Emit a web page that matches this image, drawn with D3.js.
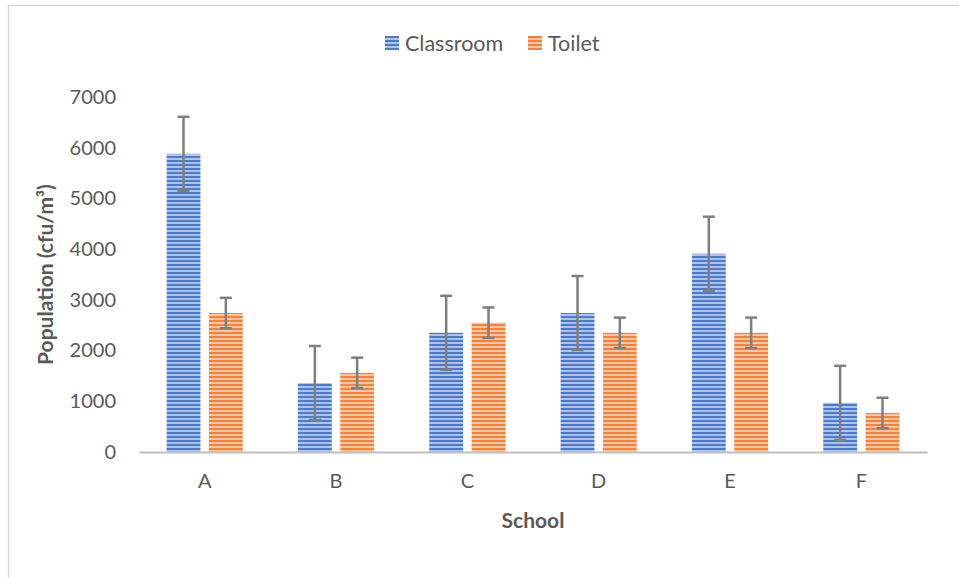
<!DOCTYPE html>
<html><head><meta charset="utf-8">
<script src="https://cdn.jsdelivr.net/npm/d3@7"></script>
<style>
html,body{margin:0;padding:0;background:#fff;}
svg{display:block;}
text{font-family:Lato,"Open Sans",sans-serif;}
</style></head>
<body>
<svg id="c" width="959" height="578"></svg>
<script>
const categories = ["A","B","C","D","E","F"];
const seriesNames = ["Classroom","Toilet"];
const classroom = [5880, 1360, 2350, 2740, 3910, 970];
const toilet = [2740, 1560, 2550, 2350, 2350, 770];
const classroomErr = [730, 730, 730, 730, 730, 730];
const toiletErr = [300, 300, 300, 300, 300, 300];
const yTicks = [0,1000,2000,3000,4000,5000,6000,7000];

const values = [classroom, toilet];
const errs = [classroomErr, toiletErr];
const colors = [{dark:"#4e7ac8", light:"#adc3ea"},{dark:"#ee8440", light:"#f8c5a2"}];

const svg = d3.select("#c");
// border
svg.append("rect").attr("x",8.5).attr("y",5.5).attr("width",1000).attr("height",1000)
  .attr("fill","none").attr("stroke","#d9d9d9").attr("stroke-width",1.5);

const defs = svg.append("defs");
colors.forEach((c,i)=>{
  const p = defs.append("pattern").attr("id","pat"+i).attr("patternUnits","userSpaceOnUse")
    .attr("width",8).attr("height",4);
  p.append("rect").attr("width",8).attr("height",4).attr("fill",c.light);
  p.append("rect").attr("y",0).attr("width",8).attr("height",2).attr("fill",c.dark);
});

const pLeft=139, pRight=927, pTop=97, pBottom=452;
const x0 = d3.scaleBand().domain(categories).range([pLeft,pRight]).paddingInner(0.42).paddingOuter(0.21);
const x1 = d3.scaleBand().domain(seriesNames).range([0,x0.bandwidth()]).paddingInner(0.2);
const y = d3.scaleLinear().domain([0,7000]).range([pBottom,pTop]);

// y axis labels
const yAxis = d3.axisLeft(y).tickValues(yTicks).tickSize(0).tickPadding(0).tickFormat(d3.format("d"));
const ya = svg.append("g").attr("transform",`translate(116,0)`).call(yAxis);
ya.select(".domain").remove();
ya.selectAll("text").attr("fill","#595959").style("font-size","20px").style("font-family","Lato,'Open Sans',sans-serif");

// bars
seriesNames.forEach((s,i)=>{
  svg.append("g").selectAll("rect").data(categories).join("rect")
    .attr("x",d=>x0(d)+x1(s))
    .attr("y",(d,j)=>y(values[i][j]))
    .attr("width",x1.bandwidth())
    .attr("height",(d,j)=>y(0)-y(values[i][j]))
    .attr("fill",`url(#pat${i})`);
});

// x axis
const xAxis = d3.axisBottom(x0).tickSize(0).tickPadding(22);
const xa = svg.append("g").attr("transform",`translate(0,${pBottom})`).call(xAxis);
xa.select(".domain").attr("stroke","#bfbfbf").attr("stroke-width",2);
xa.selectAll("text").attr("fill","#595959").style("font-size","20px").style("font-family","Lato,'Open Sans',sans-serif");

// error bars
seriesNames.forEach((s,i)=>{
  const g = svg.append("g").attr("stroke","#7f7f7f").attr("stroke-width",2.5);
  categories.forEach((c,j)=>{
    const cx = x0(c)+x1(s)+x1.bandwidth()/2;
    const v = values[i][j], e = errs[i][j];
    g.append("line").attr("x1",cx).attr("x2",cx).attr("y1",y(v+e)).attr("y2",y(v-e));
    g.append("line").attr("x1",cx-6).attr("x2",cx+6).attr("y1",y(v+e)).attr("y2",y(v+e));
    g.append("line").attr("x1",cx-6).attr("x2",cx+6).attr("y1",y(v-e)).attr("y2",y(v-e));
  });
});

// legend
const legX = [385, 528];
seriesNames.forEach((s,i)=>{
  svg.append("rect").attr("x",legX[i]).attr("y",36).attr("width",14).attr("height",14).attr("fill",`url(#pat${i})`);
  svg.append("text").attr("x",legX[i]+20).attr("y",51).text(s)
    .attr("fill","#595959").style("font-size","21.5px");
});

// axis titles
svg.append("text").attr("transform",`translate(53,${(pTop+pBottom)/2}) rotate(-90)`)
  .attr("text-anchor","middle").attr("fill","#595959").style("font-size","21px").style("font-weight","bold")
  .text("Population (cfu/m³)");
svg.append("text").attr("x",533).attr("y",528).attr("text-anchor","middle")
  .attr("fill","#595959").style("font-size","21px").style("font-weight","bold").text("School");
</script>
</body></html>
